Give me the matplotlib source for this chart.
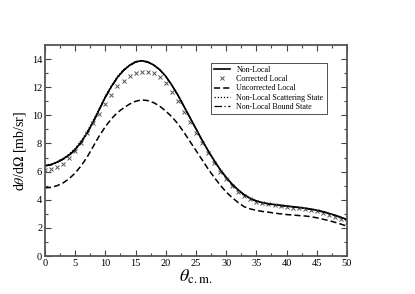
import matplotlib
matplotlib.use("Agg")
import matplotlib.pyplot as plt
import numpy as np

plt.rcParams['font.family'] = ['Liberation Serif', 'DejaVu Serif']
plt.rcParams['mathtext.fontset'] = 'stix'

# angle grid (degrees, c.m.)
theta = np.arange(0, 51, 1)

non_local = [6.43, 6.5, 6.67, 6.9, 7.18, 7.57, 8.1, 8.76, 9.55, 10.43,
             11.3, 12.05, 12.7, 13.2, 13.55, 13.8, 13.88, 13.8, 13.58, 13.25,
             12.78, 12.15, 11.45, 10.65, 9.85, 9.05, 8.25, 7.5, 6.8, 6.15,
             5.6, 5.1, 4.7, 4.36, 4.1, 3.92, 3.8, 3.72, 3.66, 3.61,
             3.56, 3.51, 3.46, 3.41, 3.34, 3.26, 3.16, 3.04, 2.91, 2.76, 2.6]

corrected_local = [6.1, 6.18, 6.33, 6.57, 6.95, 7.45, 8.05, 8.71, 9.43, 10.12,
                   10.8, 11.48, 12.05, 12.45, 12.8, 13.0, 13.1, 13.1, 13.0, 12.72,
                   12.33, 11.65, 11.0, 10.25, 9.5, 8.75, 8.02, 7.32, 6.62, 6.0,
                   5.47, 4.98, 4.58, 4.27, 4.03, 3.86, 3.75, 3.67, 3.6, 3.55,
                   3.5, 3.45, 3.4, 3.33, 3.27, 3.18, 3.07, 2.95, 2.8, 2.63, 2.45]

uncorrected_local = [4.85, 4.88, 5.0, 5.2, 5.5, 5.9, 6.42, 7.05, 7.8, 8.55,
                     9.2, 9.75, 10.2, 10.52, 10.8, 11.0, 11.1, 11.05, 10.9, 10.65,
                     10.3, 9.9, 9.4, 8.8, 8.15, 7.5, 6.85, 6.2, 5.6, 5.05,
                     4.55, 4.15, 3.8, 3.5, 3.35, 3.25, 3.17, 3.12, 3.05, 3.0,
                     2.95, 2.92, 2.88, 2.85, 2.8, 2.72, 2.62, 2.52, 2.4, 2.27, 2.12]

nl_scattering = [6.46, 6.53, 6.71, 6.95, 7.25, 7.65, 8.2, 8.86, 9.65, 10.5,
                 11.37, 12.12, 12.76, 13.24, 13.58, 13.82, 13.88, 13.78, 13.56, 13.22,
                 12.75, 12.12, 11.42, 10.62, 9.82, 9.02, 8.22, 7.48, 6.78, 6.13,
                 5.58, 5.08, 4.68, 4.34, 4.08, 3.9, 3.78, 3.7, 3.64, 3.59,
                 3.54, 3.49, 3.44, 3.39, 3.32, 3.24, 3.14, 3.02, 2.89, 2.73, 2.56]

nl_bound = [6.4, 6.47, 6.64, 6.87, 7.15, 7.54, 8.07, 8.73, 9.52, 10.4,
            11.27, 12.02, 12.67, 13.18, 13.53, 13.78, 13.86, 13.78, 13.56, 13.23,
            12.76, 12.13, 11.43, 10.63, 9.83, 9.03, 8.23, 7.48, 6.78, 6.13,
            5.58, 5.08, 4.68, 4.34, 4.08, 3.9, 3.78, 3.7, 3.64, 3.59,
            3.54, 3.49, 3.44, 3.39, 3.32, 3.24, 3.14, 3.02, 2.89, 2.73, 2.53]

fig = plt.figure(figsize=(4.15, 2.94), dpi=100)
ax = fig.add_axes([0.1084, 0.129, 0.7277, 0.718])

ax.plot(theta, non_local, color='black', lw=1.2, label='Non-Local')
ax.plot(theta, corrected_local, ls='none', marker='x', ms=3.5, mew=0.7,
        color='#555555', label='Corrected Local')
ax.plot(theta, uncorrected_local, color='black', lw=1.1, ls=(0, (4, 2)),
        label='Uncorrected Local')
ax.plot(theta, nl_scattering, color='black', lw=0.9, ls=(0, (1, 1.5)),
        label='Non-Local Scattering State')
ax.plot(theta, nl_bound, color='black', lw=0.9, ls=(0, (6, 2, 1, 2)),
        label='Non-Local Bound State')

ax.set_xlim(0, 50)
ax.set_ylim(0, 15)
ax.set_xticks(np.arange(0, 51, 5))
ax.set_xticks(np.arange(0, 51, 2.5), minor=True)
ax.set_yticks(np.arange(0, 15, 2))
ax.set_yticks(np.arange(0, 15, 1), minor=True)
ax.tick_params(which='both', direction='in', top=True, right=True,
               labelsize=7.5, pad=2, color='#444444')
ax.tick_params(which='major', length=4.5, width=0.8)
ax.tick_params(which='minor', length=2.5, width=0.8)
for sp in ax.spines.values():
    sp.set_color('#555555')
    sp.set_linewidth(1.3)

ax.set_ylabel(r'd$\theta$/d$\Omega$ [mb/sr]', fontsize=10, labelpad=3)
ax.set_xlabel(r'$\theta_{\mathrm{c.m.}}$', fontsize=13, labelpad=0)

leg = ax.legend(loc='upper left', bbox_to_anchor=(0.535, 0.935), fontsize=5.8,
                frameon=True, fancybox=False, edgecolor='black',
                handlelength=2.0, handletextpad=0.8, labelspacing=0.15,
                borderpad=0.4)
leg.get_frame().set_linewidth(0.6)

fig.savefig('out.png', dpi=100)
